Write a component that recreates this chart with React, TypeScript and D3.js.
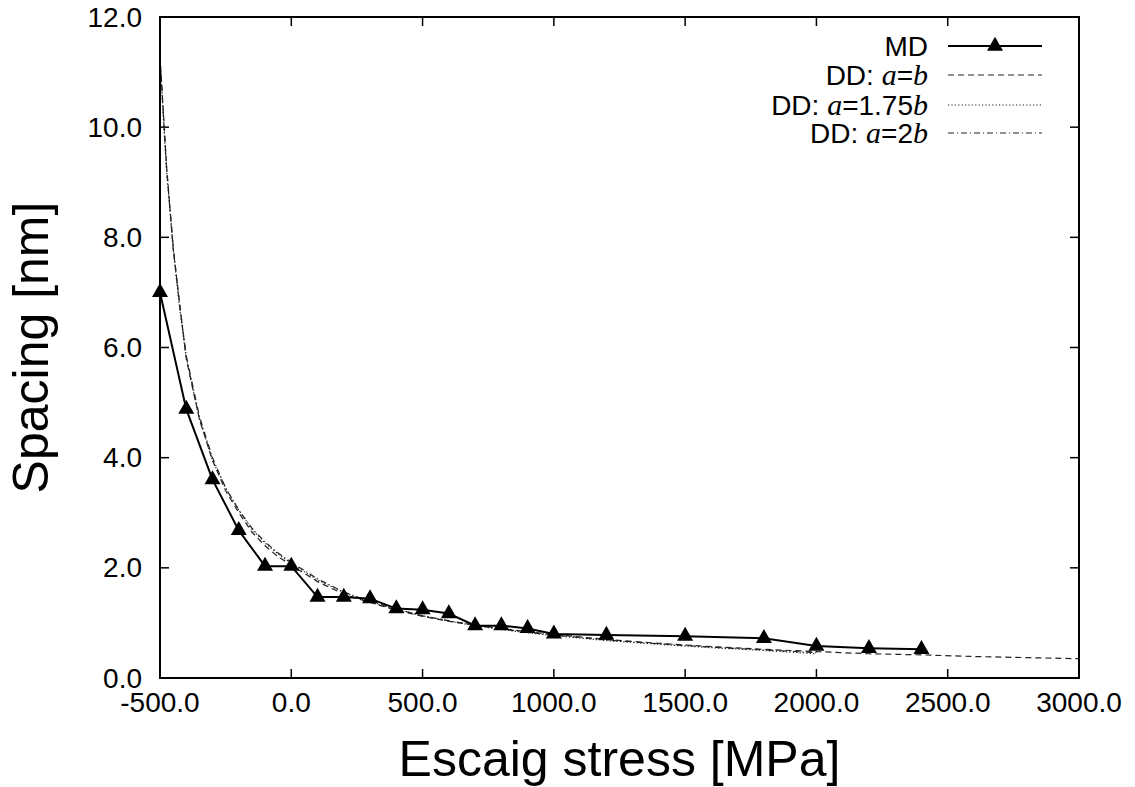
import React from 'react';
import * as d3 from 'd3';

// Escaig stress [MPa]
const mdStress = [-500, -400, -300, -200, -100, 0, 100, 200, 300, 400, 500, 600, 700, 800, 900, 1000, 1200, 1500, 1800, 2000, 2200, 2400];
const mdSpacing = [7.0, 4.88, 3.6, 2.68, 2.03, 2.03, 1.47, 1.47, 1.44, 1.26, 1.24, 1.17, 0.95, 0.95, 0.9, 0.8, 0.78, 0.76, 0.72, 0.58, 0.54, 0.52];

const ddStress = [-500, -475, -450, -425, -400, -350, -300, -250, -200, -150, -100, -50, 0, 100, 200, 300, 400, 500, 600, 700, 800, 900, 1000, 1200, 1400, 1600, 1800, 2000, 2200, 2400, 2600, 2800, 3000];
const ddEqual = [11.3, 9.3, 7.8, 6.8, 5.8, 4.7, 3.95, 3.4, 3.0, 2.65, 2.4, 2.2, 2.05, 1.75, 1.52, 1.37, 1.23, 1.12, 1.03, 0.96, 0.9, 0.84, 0.79, 0.7, 0.63, 0.57, 0.52, 0.48, 0.44, 0.42, 0.39, 0.37, 0.35];
const dd175 = [11.2, 9.2, 7.8, 6.7, 5.8, 4.7, 3.95, 3.45, 3.05, 2.7, 2.45, 2.25, 2.08, 1.78, 1.55, 1.38, 1.25, 1.13, 1.03, 0.95, 0.88, 0.82, 0.77, 0.68, 0.61, 0.55, 0.5, 0.44];
const dd2 = [11.25, 9.25, 7.85, 6.75, 5.85, 4.75, 4.0, 3.45, 3.05, 2.72, 2.47, 2.27, 2.1, 1.8, 1.56, 1.39, 1.25, 1.13, 1.04, 0.96, 0.89, 0.83, 0.78, 0.69, 0.62, 0.56, 0.51, 0.46];

const xTicks = [-500, 0, 500, 1000, 1500, 2000, 2500, 3000];
const yTicks = [0, 2, 4, 6, 8, 10, 12];

const width = 1135;
const height = 787;
const margin = { top: 17, right: 56, bottom: 109, left: 160 };
const font = 'Liberation Sans, Arial, Helvetica, sans-serif';
const serif = 'Liberation Serif, Times New Roman, serif';

const x = d3.scaleLinear().domain([-500, 3000]).range([margin.left, width - margin.right]);
const y = d3.scaleLinear().domain([0, 12]).range([height - margin.bottom, margin.top]);

const line = d3.line<[number, number]>().x(d => x(d[0])).y(d => y(d[1]));
const pairs = (xs: number[], ys: number[]) => ys.map((v, i) => [xs[i], v] as [number, number]);

const tri = (cx: number, cy: number) => {
  const w = 8, h = 14;
  return `M${cx - w},${cy + h / 3}L${cx + w},${cy + h / 3}L${cx},${cy - (2 * h) / 3}Z`;
};

const ddSeries = [
  { label: 'a=b', pre: '', values: ddEqual, dash: '6,4' },
  { label: 'a=1.75b', pre: '1.75', values: dd175, dash: '1.2,2.2' },
  { label: 'a=2b', pre: '2', values: dd2, dash: '6,3,1,3' },
];

const App = () => {
  const x0 = margin.left, x1 = width - margin.right;
  const y0 = height - margin.bottom, y1 = margin.top;
  const legX = 928, legL0 = 948, legL1 = 1042;
  const legY = [46, 75, 105, 133];

  return (
    <svg width={width} height={height} style={{ position: 'absolute', left: 0, top: 0, background: '#fff' }}>
      <defs>
        <clipPath id="plot">
          <rect x={x0} y={y1} width={x1 - x0} height={y0 - y1} />
        </clipPath>
      </defs>

      {/* ticks, mirrored on all sides */}
      {xTicks.map(t => (
        <g key={'xt' + t}>
          <line x1={x(t)} x2={x(t)} y1={y0} y2={y0 - 9} stroke="#000" strokeWidth={1.5} />
          <line x1={x(t)} x2={x(t)} y1={y1} y2={y1 + 9} stroke="#000" strokeWidth={1.5} />
          <text x={x(t)} y={712} textAnchor="middle" fontFamily={font} fontSize={28}>{t.toFixed(1)}</text>
        </g>
      ))}
      {yTicks.map(t => (
        <g key={'yt' + t}>
          <line x1={x0} x2={x0 + 9} y1={y(t)} y2={y(t)} stroke="#000" strokeWidth={1.5} />
          <line x1={x1} x2={x1 - 9} y1={y(t)} y2={y(t)} stroke="#000" strokeWidth={1.5} />
          <text x={142} y={y(t)} dy="0.34em" textAnchor="end" fontFamily={font} fontSize={28}>{t.toFixed(1)}</text>
        </g>
      ))}

      <g clipPath="url(#plot)" fill="none">
        {ddSeries.map(s => (
          <path key={s.label} d={line(pairs(ddStress, s.values)) || ''} stroke="#222" strokeWidth={1.2} strokeDasharray={s.dash} />
        ))}
        <path d={line(pairs(mdStress, mdSpacing)) || ''} stroke="#000" strokeWidth={2} />
      </g>
      {mdSpacing.map((v, i) => (
        <path key={'m' + i} d={tri(x(mdStress[i]), y(v))} fill="#000" />
      ))}

      <rect x={x0} y={y1} width={x1 - x0} height={y0 - y1} fill="none" stroke="#000" strokeWidth={2} />

      {/* legend */}
      <text x={legX} y={legY[0]} dy="0.34em" textAnchor="end" fontFamily={font} fontSize={28}>MD</text>
      <line x1={legL0} x2={legL1} y1={legY[0]} y2={legY[0]} stroke="#000" strokeWidth={2} />
      <path d={tri((legL0 + legL1) / 2, legY[0])} fill="#000" />
      {ddSeries.map((s, i) => (
        <g key={'leg' + s.label}>
          <text x={legX} y={legY[i + 1]} dy="0.34em" textAnchor="end" fontFamily={font} fontSize={28}>
            DD: <tspan fontFamily={serif} fontStyle="italic" fontSize={30}>a</tspan>={s.pre}<tspan fontFamily={serif} fontStyle="italic" fontSize={30}>b</tspan>
          </text>
          <line x1={legL0} x2={legL1} y1={legY[i + 1]} y2={legY[i + 1]} stroke="#222" strokeWidth={1.2} strokeDasharray={s.dash} />
        </g>
      ))}

      <text x={(x0 + x1) / 2} y={776} textAnchor="middle" fontFamily={font} fontSize={50}>Escaig stress [MPa]</text>
      <text transform={`translate(48, ${(y0 + y1) / 2}) rotate(-90)`} textAnchor="middle" fontFamily={font} fontSize={50}>Spacing [nm]</text>
    </svg>
  );
};

export default App;
